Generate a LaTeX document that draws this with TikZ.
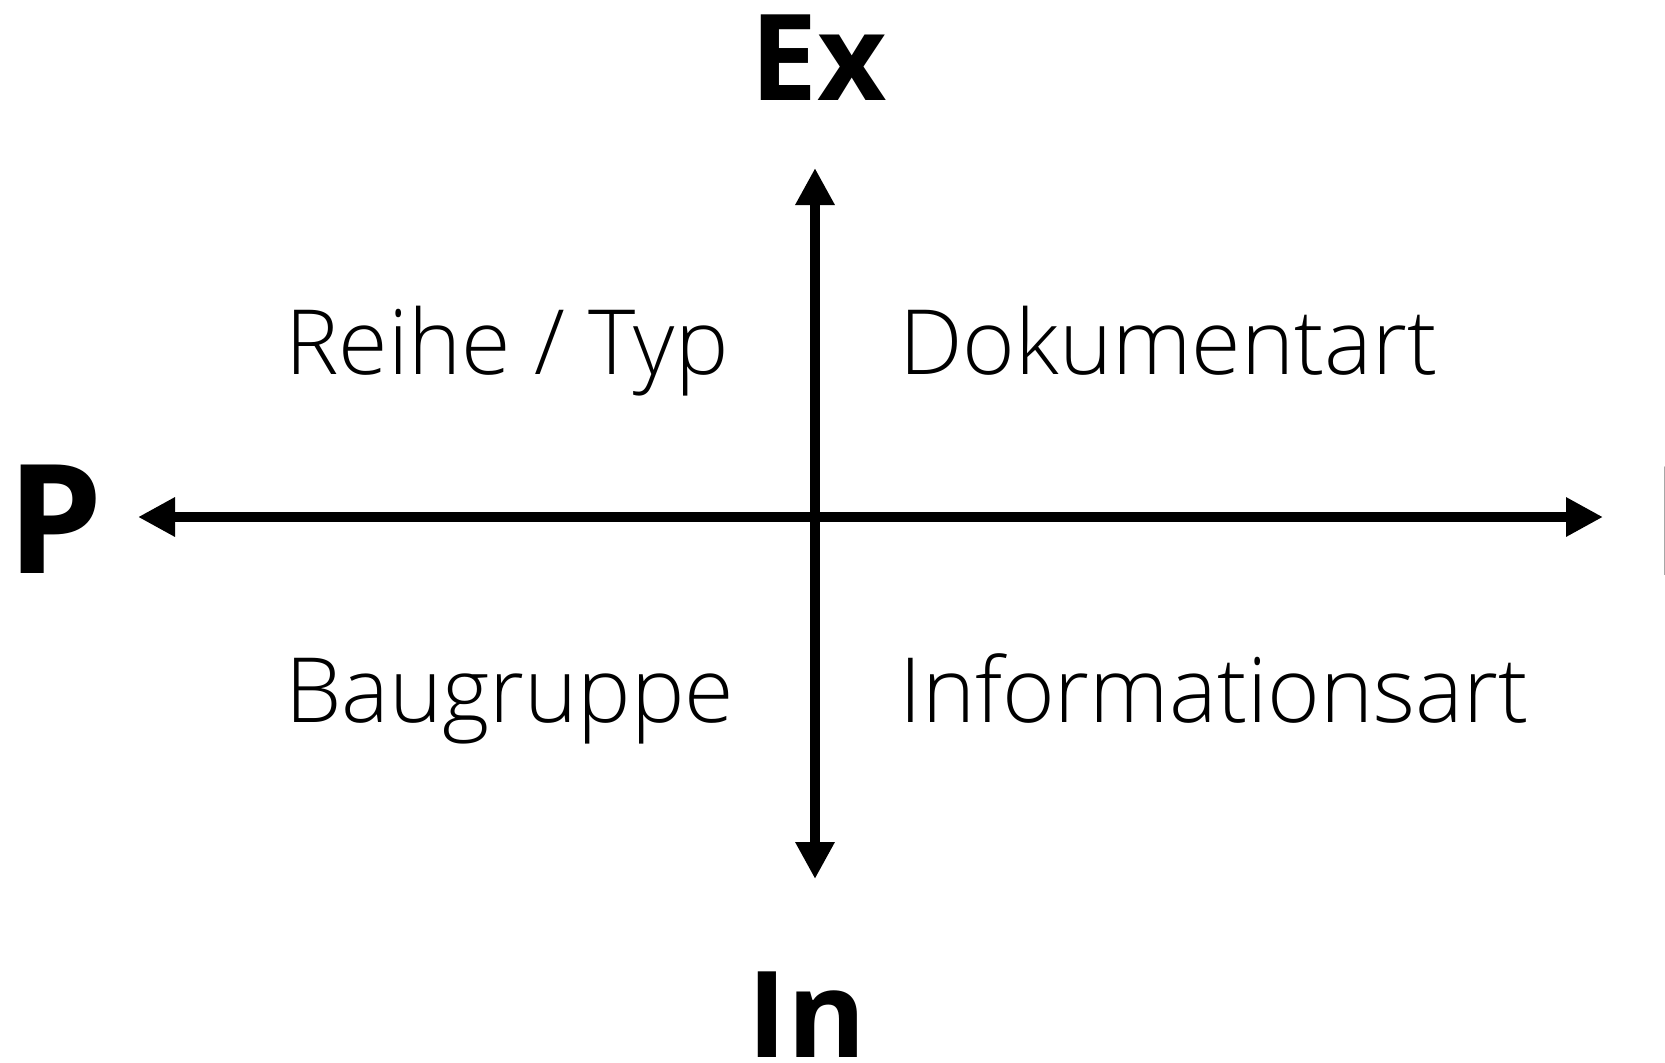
\documentclass[tikz,border=0pt]{standalone}
\usepackage{fontspec}
\setmainfont{Open Sans}
\newfontfamily\lightfont{Open Sans Light}
\usetikzlibrary{arrows.meta}
\begin{document}
\begin{tikzpicture}[x=0.5pt,y=-0.5pt,
  axis/.style={line width=5pt,{Triangle[length=18.5pt,width=18.5pt]}-{Triangle[length=18.5pt,width=18.5pt]}},
  pole/.style={font=\fontsize{76}{80}\selectfont\bfseries,inner sep=0pt,anchor=base west},
  polesmall/.style={font=\fontsize{60}{64}\selectfont\bfseries,inner sep=0pt,anchor=base west},
  field/.style={font=\lightfont\fontsize{45}{48}\selectfont,inner sep=0pt,anchor=base west}]
\useasboundingbox (0,0) rectangle (1665,1062);
% axis end points
\coordinate (top) at (815,168);
\coordinate (bottom) at (815,879);
\coordinate (left) at (138,517);
\coordinate (right) at (1603,517);
\draw[axis] (bottom) -- (top);
\draw[axis] (left) -- (right);
% pole labels
\node[polesmall] (ex) at (750,100) {Ex};
\node[polesmall] (in) at (747,1057) {In};
\node[pole] (p) at (7,573) {P};
\node[pole] (i) at (1651,575) {I};
% quadrant labels
\node[field] (reihe) at (285,374) {Reihe / Typ};
\node[field] (dok) at (899,374) {Dokumentart};
\node[field] (bau) at (285,722) {Baugruppe};
\node[field] (info) at (899,722) {Informationsart};
\end{tikzpicture}
\end{document}
